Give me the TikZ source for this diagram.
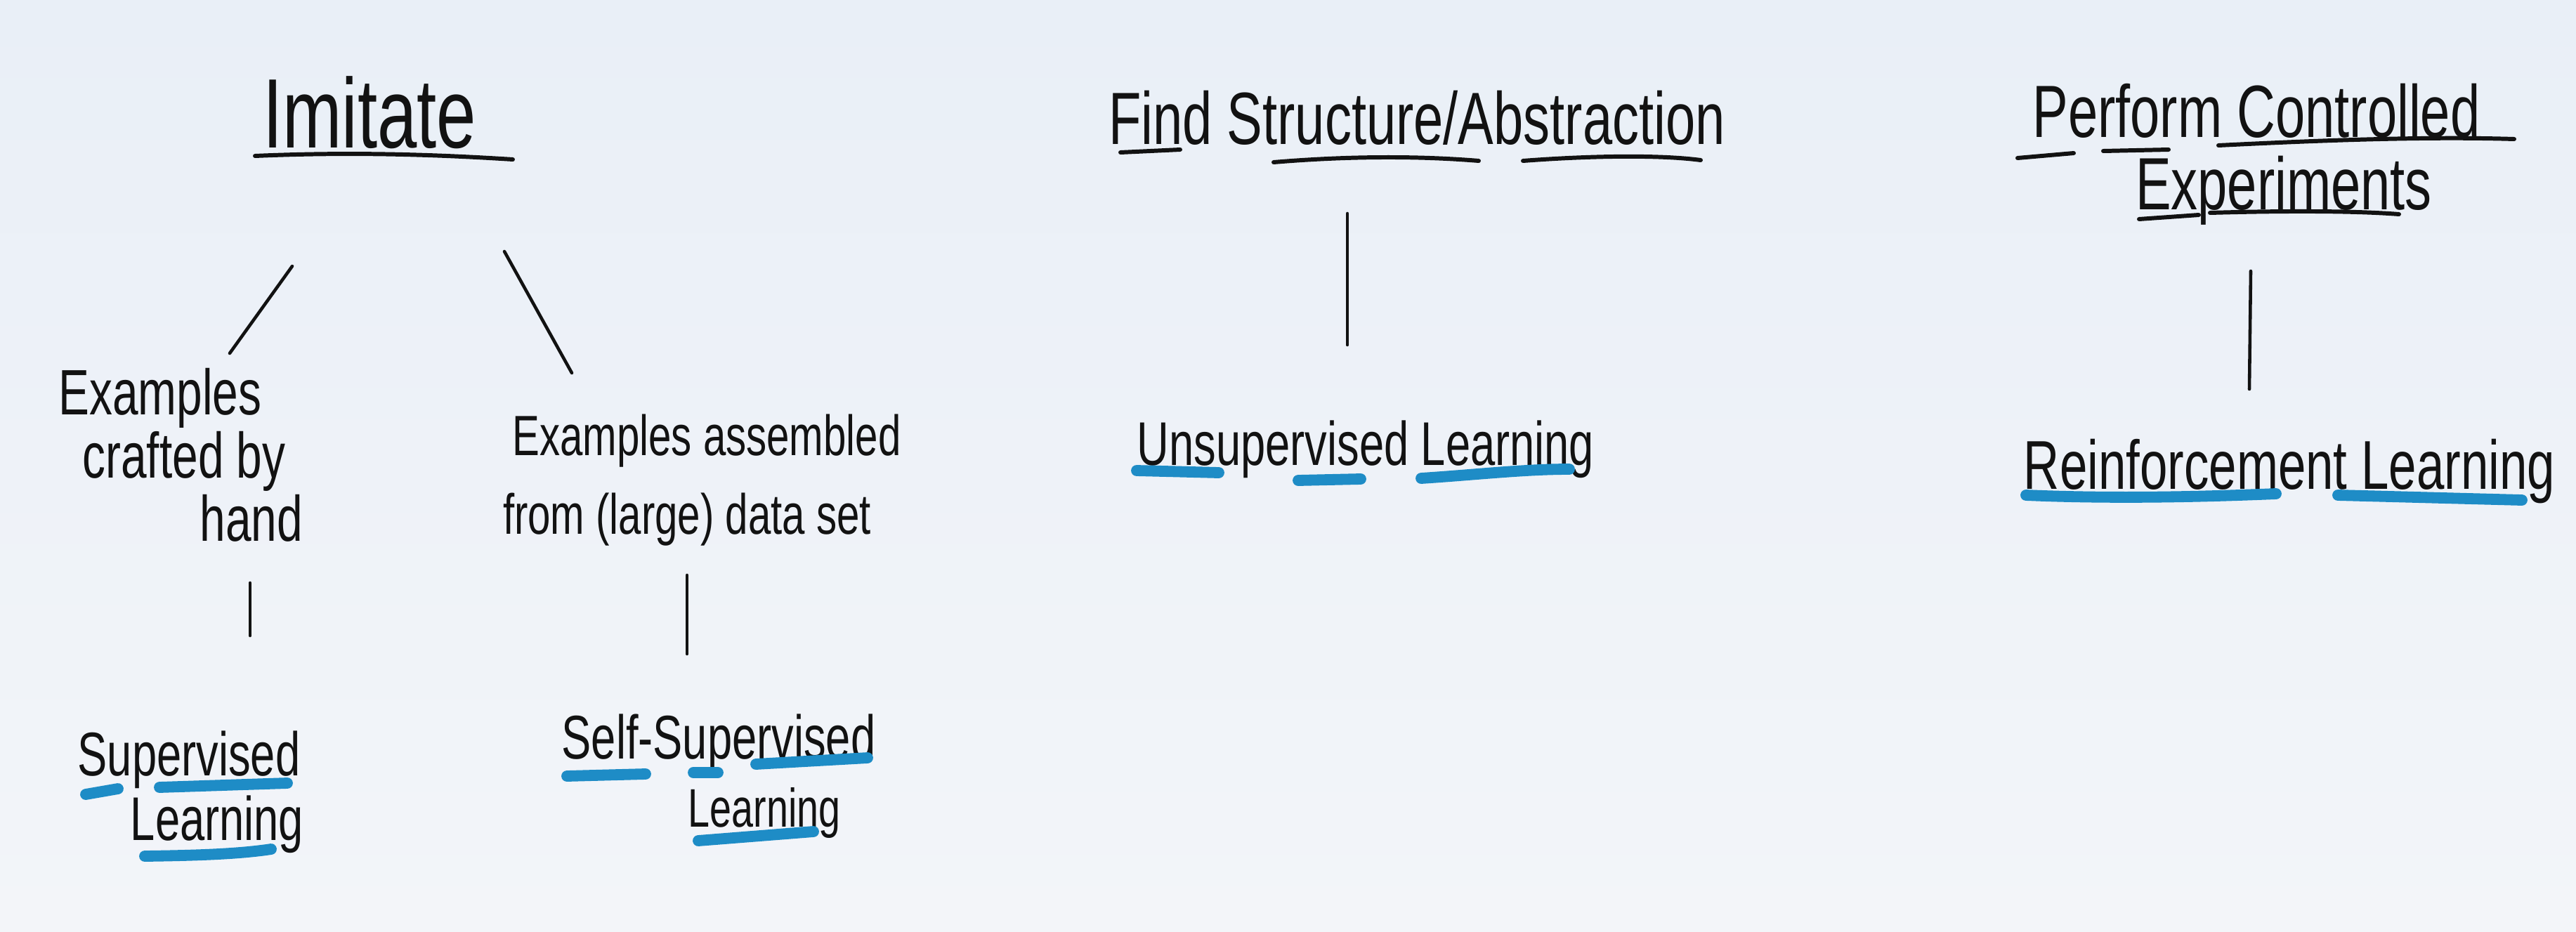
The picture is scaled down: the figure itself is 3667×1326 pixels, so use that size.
\documentclass[tikz,border=0pt]{standalone}
\usepackage{fontspec}
\setmainfont{Liberation Sans}[FakeStretch=0.72]
\usepackage{xcolor}
\usetikzlibrary{positioning, calc}

\definecolor{board}{RGB}{233,239,247}
\definecolor{boardlight}{RGB}{243,245,249}
\definecolor{ink}{RGB}{18,18,18}
\definecolor{marker}{RGB}{30,140,198}

\begin{document}
\begin{tikzpicture}[
                x=0.1mm, y=-0.1mm,
                title/.style={text=ink, inner sep=0pt, anchor=base, font=\fontsize{30}{34}\selectfont},
                note/.style={text=ink, inner sep=0pt, anchor=base, font=\fontsize{26}{30}\selectfont},
                smallnote/.style={text=ink, inner sep=0pt, anchor=base, font=\fontsize{23}{27}\selectfont},
                term/.style={text=ink, inner sep=0pt, anchor=base, font=\fontsize{25}{29}\selectfont},
                stroke/.style={draw=ink, line width=1.3pt, line cap=round},
                uline/.style={draw=ink, line width=1.7pt, line cap=round},
                hl/.style={draw=marker, line width=4.5pt, line cap=round}
            ]
            % Whiteboard
            \useasboundingbox (0,0) rectangle (3667,1326);
            \shade[top color=board, bottom color=boardlight] (0,0) rectangle (3667,1326);

            % Three goals
            \node[title, font=\fontsize{40}{44}\selectfont] (imitate) at (526,210) {Imitate};
            \node[title] (find) at (2017,205) {Find Structure/Abstraction};
            \node[title] (perform) at (3212,195) {Perform Controlled};
            \node[title] (experiments) at (3251,298) {Experiments};

            % Where the examples come from
            \node[note] (crafted1) at (228,590) {Examples};
            \node[note] (crafted2) at (262,680) {crafted by};
            \node[note] (crafted3) at (358,770) {hand};
            \node[smallnote] (assembled1) at (1006,648) {Examples assembled};
            \node[smallnote] (assembled2) at (978,760) {from (large) data set};

            % Kinds of learning
            \node[term] (sup1) at (269,1104) {Supervised};
            \node[term] (sup2) at (309,1196) {Learning};
            \node[term] (self1) at (1023,1080) {Self-Supervised};
            \node[term, font=\fontsize{22}{26}\selectfont] (self2) at (1088,1177) {Learning};
            \node[term] (unsup) at (1944,662) {Unsupervised Learning};
            \node[term, font=\fontsize{28}{32}\selectfont] (reinf) at (3259,696) {Reinforcement Learning};

            % Stroke ends
            \coordinate (imL1) at (416,379);  \coordinate (imL2) at (327,503);
            \coordinate (imR1) at (718,358);  \coordinate (imR2) at (814,531);
            \coordinate (hd1) at (356,830);   \coordinate (hd2) at (356,905);
            \coordinate (ds1) at (978,819);   \coordinate (ds2) at (978,931);
            \coordinate (fs1) at (1918,304);  \coordinate (fs2) at (1918,491);
            \coordinate (pc1) at (3204,386);  \coordinate (pc2) at (3202,554);

            % Connections
            \draw[stroke] (imL1) -- (imL2);
            \draw[stroke] (imR1) -- (imR2);
            \draw[stroke] (hd1) -- (hd2);
            \draw[stroke] (ds1) -- (ds2);
            \draw[stroke] (fs1) -- (fs2);
            \draw[stroke] (pc1) -- (pc2);

            % Black underlines
            \draw[uline] (363,222) .. controls (500,216) and (620,220) .. (730,227);
            \draw[uline] (1595,217) -- (1680,213);
            \draw[uline] (1813,231) .. controls (1920,222) and (2020,222) .. (2105,229);
            \draw[uline] (2168,229) .. controls (2260,222) and (2360,220) .. (2421,228);
            \draw[uline] (2872,225) -- (2952,218);
            \draw[uline] (2994,215) -- (3087,213);
            \draw[uline] (3158,207) .. controls (3300,200) and (3450,194) .. (3579,198);
            \draw[uline] (3045,312) -- (3130,306);
            \draw[uline] (3146,303) .. controls (3250,300) and (3350,300) .. (3415,305);

            % Blue marker
            \draw[hl] (1618,670) -- (1735,673);
            \draw[hl] (1848,684) -- (1937,682);
            \draw[hl] (2023,681) .. controls (2100,676) and (2170,668) .. (2234,668);
            \draw[hl] (2884,705) .. controls (3000,710) and (3120,708) .. (3240,703);
            \draw[hl] (3328,705) -- (3590,712);
            \draw[hl] (122,1131) -- (168,1123);
            \draw[hl] (227,1121) -- (409,1115);
            \draw[hl] (206,1219) .. controls (280,1218) and (340,1216) .. (386,1209);
            \draw[hl] (807,1105) -- (919,1102);
            \draw[hl] (987,1100) -- (1022,1100);
            \draw[hl] (1076,1088) -- (1235,1079);
            \draw[hl] (994,1197) -- (1158,1184);
        \end{tikzpicture}
\end{document}
